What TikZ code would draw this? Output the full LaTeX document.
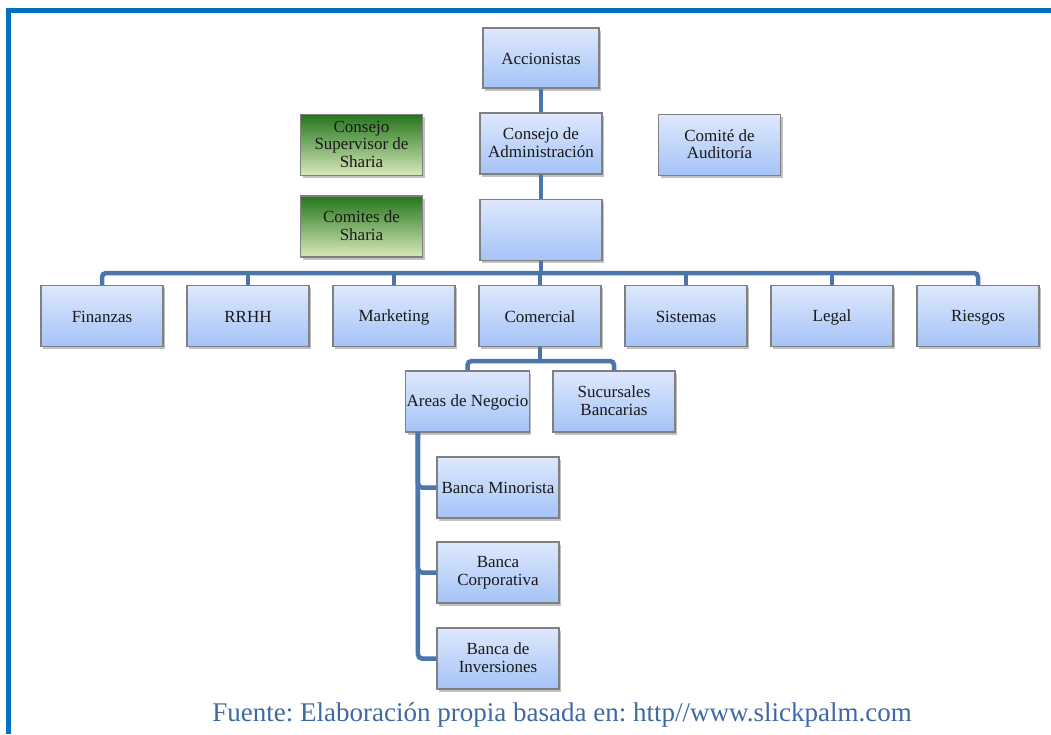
\documentclass[tikz,border=0pt]{standalone}
\usepackage{fontspec}
\setmainfont{Liberation Serif}
\usetikzlibrary{shadows}
\definecolor{frameblue}{RGB}{0,112,192}
\definecolor{linkblue}{RGB}{74,118,172}
\definecolor{boxtop}{RGB}{222,232,253}
\definecolor{boxbot}{RGB}{164,195,247}
\definecolor{greentop}{RGB}{36,118,28}
\definecolor{greenbot}{RGB}{216,233,186}
\definecolor{captionblue}{RGB}{62,105,163}
% strut that keeps box labels on a common baseline
\newcommand\bxstrut{\rule[-2pt]{0pt}{16pt}}
\tikzset{
  orgbox/.style={draw=black!50, line width=1.3pt, top color=boxtop, bottom color=boxbot,
    minimum width=122pt, minimum height=61pt, align=center, inner sep=1pt,
    font=\fontsize{17}{17.5}\selectfont, text=black!90,
    execute at begin node=\bxstrut, execute at end node=\bxstrut,
    drop shadow={shadow xshift=2pt, shadow yshift=-2.5pt, opacity=0.35, fill=black!70}},
  sharia/.style={orgbox, top color=greentop, bottom color=greenbot},
  link/.style={draw=linkblue, line width=4.5pt},
  rlink/.style={link, rounded corners=4pt},
}
\begin{document}
\frenchspacing
\begin{tikzpicture}[x=1pt, y=-1pt]
\useasboundingbox (0,0) rectangle (1051,734);
% outer frame (only top and left edges fall inside the page)
\draw[frameblue, line width=5pt] (8.5,734) -- (8.5,10.5) -- (1051,10.5);

% governance
\node[orgbox, minimum width=116pt, minimum height=60pt] (acc) at (541,58) {Accionistas};
\node[orgbox] (cons) at (541,143.5) {Consejo de\\Administración};
\node[orgbox] (dir) at (541,230) {};
\node[sharia] (csup) at (361.5,145) {Consejo\\Supervisor de\\Sharia};
\node[sharia] (csha) at (361.5,226.5) {Comites de\\Sharia};
\node[orgbox] (aud) at (719.5,145) {Comité de\\Auditoría};

% departments
\node[orgbox] (fin) at (102,316) {Finanzas};
\node[orgbox] (rrhh) at (248,316) {RRHH};
\node[orgbox] (mkt) at (394,316) {Marketing};
\node[orgbox] (com) at (540,316) {Comercial};
\node[orgbox] (sis) at (686,316) {Sistemas};
\node[orgbox] (leg) at (832,316) {Legal};
\node[orgbox] (rie) at (978,316) {Riesgos};

% commercial branch
\node[orgbox] (areas) at (467.5,401.5) {Areas de Negocio};
\node[orgbox] (suc) at (614,401.5) {Sucursales\\Bancarias};
\node[orgbox] (min) at (498,487.5) {Banca Minorista};
\node[orgbox] (corp) at (498,572.5) {Banca\\Corporativa};
\node[orgbox] (inv) at (498,658.5) {Banca de\\Inversiones};

% connectors
\coordinate (bus) at (541,273);
\coordinate (cbus) at (540,361);
\coordinate (trunk) at ([xshift=13pt]areas.south west);

\draw[link] (acc.south) -- (cons.north);
\draw[link] (cons.south) -- (dir.north);
\draw[link] (dir.south) -- (bus);
\draw[rlink] (fin.north) |- (bus) -| (rie.north);
\foreach \d in {rrhh,mkt,com,sis,leg}
  \draw[link] (\d.north) -- (\d.north |- bus);

\draw[link] (com.south) -- (cbus);
\draw[rlink] (areas.north) |- (cbus) -| (suc.north);

\draw[rlink] (trunk) |- (inv.west);
\draw[rlink] (trunk) |- (corp.west);
\draw[rlink] (trunk) |- (min.west);

% source note
\node[anchor=base, text=captionblue, font=\fontsize{27}{29}\selectfont, inner sep=0pt] (src) at (562,721)
  {Fuente: Elaboración propia basada en: http//www.slickpalm.com};
\end{tikzpicture}
\end{document}
